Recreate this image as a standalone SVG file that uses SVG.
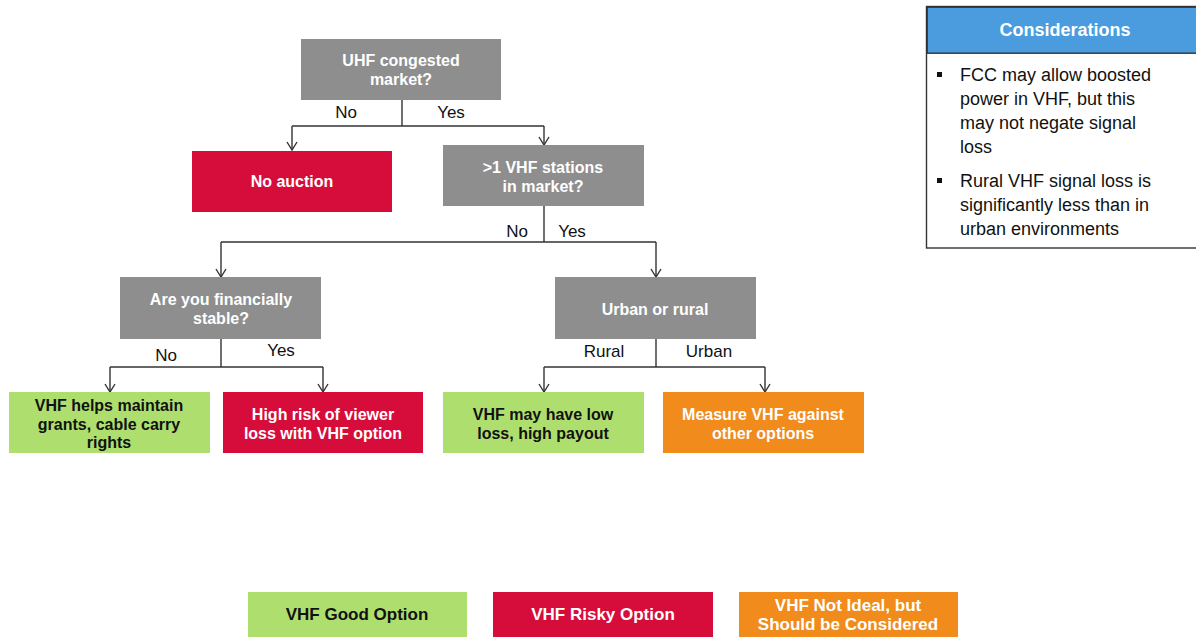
<svg xmlns="http://www.w3.org/2000/svg" width="1196" height="638" viewBox="0 0 1196 638">
<defs>
<marker id="arr" viewBox="0 0 12 12" refX="11" refY="6" markerWidth="12" markerHeight="12" markerUnits="userSpaceOnUse" orient="auto">
<polyline points="3,1 11,6 3,11" fill="none" stroke="#333" stroke-width="1.4"/>
</marker>
<style>
.gray{fill:#8E8E8E}
.red{fill:#D60D3A}
.green{fill:#AEDF6E}
.orange{fill:#F08B1C}
.t{font-family:"Liberation Sans",Arial,sans-serif;font-size:16px;font-weight:bold;text-anchor:middle}
.w{fill:#fff}
.k{fill:#111}
.lbl{font-family:"Liberation Sans",Arial,sans-serif;font-size:17px;fill:#111;text-anchor:middle}
.leg{font-family:"Liberation Sans Narrow","Liberation Sans",Arial,sans-serif;font-size:17px;font-weight:bold;text-anchor:middle}
.c{stroke:#333;stroke-width:1.4;fill:none}
.body{font-family:"Liberation Sans",Arial,sans-serif;font-size:18px;fill:#111}
</style>
</defs>
<rect width="1196" height="638" fill="#fff"/>

<g id="connectors">
<path class="c" d="M402,100 V126"/>
<path class="c" d="M292,126 H544"/>
<path class="c" d="M292,126 V150" marker-end="url(#arr)"/>
<path class="c" d="M544,126 V145" marker-end="url(#arr)"/>
<path class="c" d="M544,206 V242"/>
<path class="c" d="M221,242 H656"/>
<path class="c" d="M221,242 V277" marker-end="url(#arr)"/>
<path class="c" d="M656,242 V277" marker-end="url(#arr)"/>
<path class="c" d="M221,339 V367"/>
<path class="c" d="M110,367 H323"/>
<path class="c" d="M110,367 V392" marker-end="url(#arr)"/>
<path class="c" d="M323,367 V392" marker-end="url(#arr)"/>
<path class="c" d="M656,339 V367"/>
<path class="c" d="M544,367 H765"/>
<path class="c" d="M544,367 V392" marker-end="url(#arr)"/>
<path class="c" d="M765,367 V392" marker-end="url(#arr)"/>
<text class="lbl" x="346" y="118">No</text>
<text class="lbl" x="451" y="118">Yes</text>
<text class="lbl" x="517" y="237">No</text>
<text class="lbl" x="572" y="237">Yes</text>
<text class="lbl" x="166" y="361">No</text>
<text class="lbl" x="281" y="356">Yes</text>
<text class="lbl" x="604" y="357">Rural</text>
<text class="lbl" x="709" y="357">Urban</text>
</g>

<g id="n-uhf">
<rect class="gray" x="301" y="39" width="200" height="61"/>
<text class="t w" x="401" y="66">UHF  congested</text>
<text class="t w" x="401" y="85">market?</text>
</g>
<g id="n-noauction">
<rect class="red" x="192" y="151" width="200" height="61"/>
<text class="t w" x="292" y="187">No auction</text>
</g>
<g id="n-vhfstations">
<rect class="gray" x="443" y="145" width="201" height="61"/>
<text class="t w" x="543" y="173">&gt;1 VHF  stations</text>
<text class="t w" x="543" y="192">in market?</text>
</g>
<g id="n-financial">
<rect class="gray" x="120" y="277" width="201" height="62"/>
<text class="t w" x="221" y="305">Are you  financially</text>
<text class="t w" x="221" y="324">stable?</text>
</g>
<g id="n-urbanrural">
<rect class="gray" x="555" y="277" width="201" height="62"/>
<text class="t w" x="655" y="315">Urban  or rural</text>
</g>
<g id="n-vhfhelps">
<rect class="green" x="9" y="392" width="201" height="61"/>
<text class="t k" x="109" y="411">VHF  helps maintain</text>
<text class="t k" x="109" y="430">grants, cable carry</text>
<text class="t k" x="109" y="448">rights</text>
</g>
<g id="n-highrisk">
<rect class="red" x="223" y="392" width="200" height="61"/>
<text class="t w" x="323" y="420">High  risk of  viewer</text>
<text class="t w" x="323" y="439">loss with VHF  option</text>
</g>
<g id="n-vhfmay">
<rect class="green" x="443" y="392" width="201" height="61"/>
<text class="t k" x="543" y="420">VHF  may have  low</text>
<text class="t k" x="543" y="439">loss, high  payout</text>
</g>
<g id="n-measure">
<rect class="orange" x="663" y="392" width="201" height="61"/>
<text class="t w" x="763" y="420">Measure VHF  against</text>
<text class="t w" x="763" y="439">other options</text>
</g>

<g id="considerations">
<rect x="926.5" y="6.5" width="290" height="241.5" fill="#fff" stroke="#333" stroke-width="1.4"/>
<rect x="927.2" y="7.2" width="290" height="46" fill="#4A9CDF" stroke="#333" stroke-width="1.4"/>
<text x="1065" y="36" font-family="Liberation Sans,Arial,sans-serif" font-size="18" font-weight="bold" fill="#fff" text-anchor="middle">Considerations</text>
<rect x="937" y="72" width="5" height="5" fill="#111"/>
<text class="body" x="960" y="81">FCC may  allow boosted</text>
<text class="body" x="960" y="105">power in VHF,  but this</text>
<text class="body" x="960" y="129">may not negate signal</text>
<text class="body" x="960" y="153">loss</text>
<rect x="937" y="178" width="5" height="5" fill="#111"/>
<text class="body" x="960" y="187">Rural VHF  signal loss is</text>
<text class="body" x="960" y="211">significantly less than in</text>
<text class="body" x="960" y="235">urban environments</text>
</g>

<g id="legend-good">
<rect class="green" x="248" y="592" width="219" height="45"/>
<text class="leg k" x="357" y="620">VHF  Good  Option</text>
</g>
<g id="legend-risky">
<rect class="red" x="493" y="592" width="220" height="45"/>
<text class="leg w" x="603" y="620">VHF  Risky Option</text>
</g>
<g id="legend-notideal">
<rect class="orange" x="739" y="592" width="219" height="45"/>
<text class="leg w" x="848" y="611">VHF  Not Ideal, but</text>
<text class="leg w" x="848" y="630">Should  be Considered</text>
</g>
</svg>
